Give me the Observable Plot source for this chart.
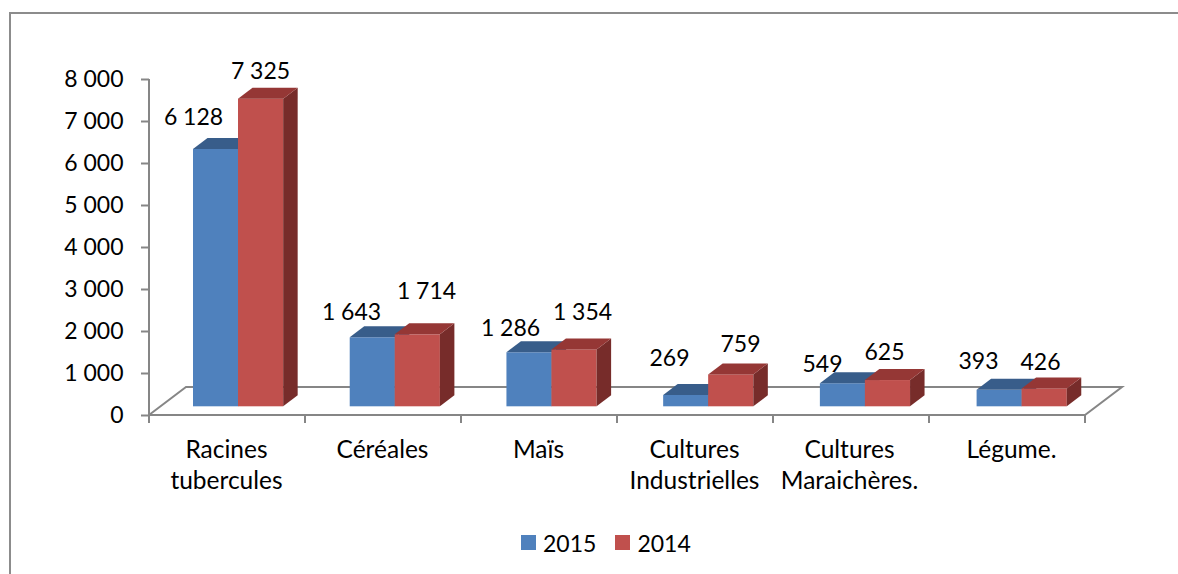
<!DOCTYPE html>
<html lang="fr">
<head>
<meta charset="utf-8">
<script src="https://cdn.jsdelivr.net/npm/d3@7"></script>
<script src="https://cdn.jsdelivr.net/npm/@observablehq/plot@0.6"></script>
<style>
  html, body { margin: 0; padding: 0; background: #fff; width: 1178px; height: 574px; overflow: hidden; }
  #frame { position: absolute; left: 9px; top: 12px; right: 0; bottom: 0; border-left: 2px solid #8c8c8c; border-top: 2px solid #8c8c8c; }
  #chart { position: absolute; left: 0; top: 0; }
  #legend { position: absolute; left: 521px; top: 526px; }
  #legend svg { margin-right: 7px !important; }
  #legend div > span { margin-right: 19px !important; }
</style>
</head>
<body>
<div id="frame"></div>
<div id="chart"></div>
<div id="legend"></div>
<script>
const categories = ["Racines tubercules", "Céréales", "Maïs", "Cultures Industrielles", "Cultures Maraichères.", "Légume."];
const values2015 = [6128, 1643, 1286, 269, 549, 393];
const values2014 = [7325, 1714, 1354, 759, 625, 426];
const seriesNames = ["2015", "2014"];
const yTicks = [0, 1000, 2000, 3000, 4000, 5000, 6000, 7000, 8000];

// Hand-placed label offsets in pixels, relative to the category centre and the value's height
const nudge2015 = [[-34, -40], [-32, -34], [-29, -33], [-26, -46], [-29, -28], [-29, -37]];
const nudge2014 = [[33, -36], [43, -52], [43, -46], [45, -39], [33, -37], [33, -35]];
const categoryNudge = [-1, -1, -1, -1, -2, 4];

const fonts = "Lato, 'Open Sans', sans-serif";
const axisColor = "#868686";
const fills = {"2015": "#4f81bd", "2014": "#c0504d"};
const tops = {"2015": "#385d8a", "2014": "#953735"};
const sides = {"2015": "#2f4f75", "2014": "#772c2a"};
const depthX = 14.5, depthY = 11, floorX = 37, floorY = 28, lift = 8.7, drift = 0.72;
const spaced = d3.formatLocale({thousands: " ", grouping: [3], decimal: ",", currency: ["", ""]}).format(",d");

const rows = series => (series === "2015" ? values2015 : values2014).map((value, i) => ({category: categories[i], series, value, i}));

const extrude = series => (index, scales, values, dims, ctx, next) => {
  const g = next(index, scales, values, dims, ctx);
  const ns = "http://www.w3.org/2000/svg";
  [...g.querySelectorAll("rect")].forEach((r, pos) => {
    const x = +r.getAttribute("x") + pos * drift;
    r.setAttribute("x", x);
    const y = +r.getAttribute("y"), w = +r.getAttribute("width"), h = +r.getAttribute("height");
    const face = (pts, fill) => {
      const p = document.createElementNS(ns, "polygon");
      p.setAttribute("points", pts.map(q => q.join(",")).join(" "));
      p.setAttribute("fill", fill);
      r.parentNode.appendChild(p);
    };
    face([[x + w, y], [x + w + depthX, y - depthY], [x + w + depthX, y + h - depthY], [x + w, y + h]], sides[series]);
    face([[x, y], [x + w, y], [x + w + depthX, y - depthY], [x + depthX, y - depthY]], tops[series]);
  });
  return g;
};

const floorMark = (index, {x, y}, values, dims) => {
  const [x0, x1] = x.range();
  const y0 = y(0), yTop = y(8000), n = x.domain().length;
  const ticks = d3.range(n + 1).map(i => `M${x0 + (x1 - x0) * i / n},${y0}v8`).join("");
  const path = d3.create("svg:path")
    .attr("d", `M${x0},${yTop}V${y0}H${x1}L${x1 + floorX},${y0 - floorY}H${x0 + floorX}L${x0},${y0}${ticks}`)
    .attr("fill", "none").attr("stroke", axisColor).attr("stroke-width", 2);
  return path.node();
};

const barMark = (series, insetLeft, insetRight) => Plot.barY(rows(series), {
  x: "category", y: "value", fill: "series",
  insetLeft, insetRight, dy: -lift,
  render: extrude(series)
});

const labelMarks = (series, nudge) => rows(series).map((d, i) => Plot.text([d], {
  x: "category", y: "value", text: v => spaced(v.value),
  dx: nudge[i][0], dy: nudge[i][1],
  fontSize: 23, fill: "#000", fontFamily: fonts
}));

const chart = Plot.plot({
  width: 1178, height: 500,
  marginLeft: 149, marginRight: 93, marginTop: 79, marginBottom: 85,
  style: {background: "transparent", overflow: "visible"},
  x: {domain: categories, padding: 0, label: null},
  y: {domain: [0, 8000], label: null},
  color: {domain: seriesNames, range: [fills["2015"], fills["2014"]]},
  marks: [
    floorMark,
    barMark("2015", 44, 66.83),
    barMark("2014", 89, 21.83),
    Plot.axisY(yTicks, {
      tickSize: 8, tickPadding: 18, stroke: axisColor, strokeWidth: 2, fill: "#000",
      fontSize: 23, fontFamily: fonts, tickFormat: spaced, label: null
    }),
    ...categories.map((c, i) => Plot.axisX([c], {
      tickSize: 0, tickPadding: 20, fill: "#000", fontSize: 24.5, fontFamily: fonts,
      lineHeight: 1.27, label: null, dx: categoryNudge[i], tickFormat: d => d.replace(" ", "\n")
    })),
    ...labelMarks("2015", nudge2015),
    ...labelMarks("2014", nudge2014)
  ]
});
document.getElementById("chart").appendChild(chart);

const legend = chart.legend("color", {
  swatchSize: 15,
  style: {fontFamily: fonts, fontSize: "23px", color: "#000"}
});
document.getElementById("legend").appendChild(legend);
</script>
</body>
</html>
